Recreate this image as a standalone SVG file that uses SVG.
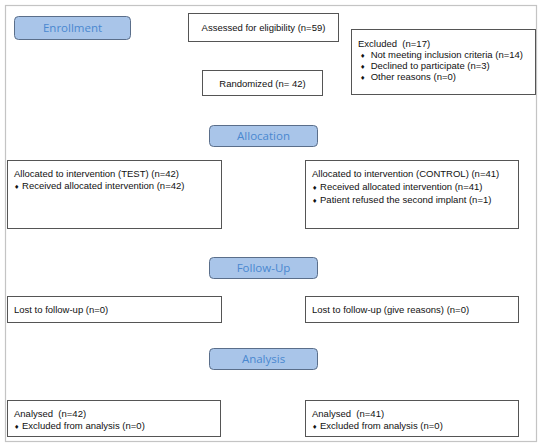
<svg xmlns="http://www.w3.org/2000/svg" width="543" height="448" viewBox="0 0 543 448">
<style>
.frame{fill:none;stroke:#c4c4c4;stroke-width:1.2}
.box{fill:#fff;stroke:#555;stroke-width:1}
.stage{fill:#a9c5e9;stroke:#5a6e8a;stroke-width:1}
.st{font-family:"Open Sans","DejaVu Sans",sans-serif;font-size:11.5px;fill:#4a88d0;text-anchor:middle}
.t{font-family:"Liberation Sans",Arial,sans-serif;font-size:9.5px;fill:#111;white-space:pre}
.b{font-family:"DejaVu Sans",sans-serif;font-size:6px}
</style>
<rect width="543" height="448" fill="#fff"/>
<rect class="frame" x="5.5" y="5.5" width="531" height="436"/>
<g id="connectors"/>
<g id="enrollment"><rect class="stage" x="14.5" y="16.5" width="116" height="23" rx="4"/><text class="st" x="72.5" y="32">Enrollment</text></g>
<g id="assessed"><rect class="box" x="188.5" y="13.5" width="150" height="28"/><text class="t" x="263.5" y="30.5" text-anchor="middle">Assessed for eligibility (n=59)</text></g>
<g id="excluded"><rect class="box" x="351.5" y="29.5" width="184" height="65"/>
<text class="t" x="358" y="46.5" xml:space="preserve">Excluded  (n=17)</text>
<text class="t" x="360" y="57.5" xml:space="preserve"><tspan class="b">♦</tspan>  Not meeting inclusion criteria (n=14)</text>
<text class="t" x="360" y="68.5" xml:space="preserve"><tspan class="b">♦</tspan>  Declined to participate (n=3)</text>
<text class="t" x="360" y="79.5" xml:space="preserve"><tspan class="b">♦</tspan>  Other reasons (n=0)</text></g>
<g id="randomized"><rect class="box" x="202.5" y="70.5" width="120" height="25"/><text class="t" x="262.5" y="86.5" text-anchor="middle">Randomized (n= 42)</text></g>
<g id="allocation"><rect class="stage" x="209.5" y="125.5" width="108" height="21" rx="4"/><text class="st" x="263.5" y="140">Allocation</text></g>
<g id="alloc-test"><rect class="box" x="7.5" y="160.5" width="214" height="68"/>
<text class="t" x="14" y="176.5">Allocated to intervention (TEST) (n=42)</text>
<text class="t" x="14" y="188.5" xml:space="preserve"><tspan class="b">♦</tspan> Received allocated intervention (n=42)</text></g>
<g id="alloc-control"><rect class="box" x="305.5" y="160.5" width="213" height="68"/>
<text class="t" x="312" y="176.5">Allocated to intervention (CONTROL) (n=41)</text>
<text class="t" x="312" y="189.5" xml:space="preserve"><tspan class="b">♦</tspan> Received allocated intervention (n=41)</text>
<text class="t" x="312" y="202.5" xml:space="preserve"><tspan class="b">♦</tspan> Patient refused the second implant (n=1)</text></g>
<g id="followup"><rect class="stage" x="209.5" y="257.5" width="108" height="21" rx="4"/><text class="st" x="263.5" y="272">Follow-Up</text></g>
<g id="lost-test"><rect class="box" x="7.5" y="296.5" width="214" height="26"/><text class="t" x="14" y="312.5">Lost to follow-up (n=0)</text></g>
<g id="lost-control"><rect class="box" x="305.5" y="296.5" width="213" height="26"/><text class="t" x="312" y="312.5">Lost to follow-up (give reasons) (n=0)</text></g>
<g id="analysis"><rect class="stage" x="209.5" y="348.5" width="108" height="21" rx="4"/><text class="st" x="263.5" y="363">Analysis</text></g>
<g id="analysed-test"><rect class="box" x="7.5" y="400.5" width="213" height="36"/>
<text class="t" x="14" y="416.5" xml:space="preserve">Analysed  (n=42)</text>
<text class="t" x="14" y="428.5" xml:space="preserve"><tspan class="b">♦</tspan> Excluded from analysis (n=0)</text></g>
<g id="analysed-control"><rect class="box" x="305.5" y="400.5" width="213" height="36"/>
<text class="t" x="312" y="416.5" xml:space="preserve">Analysed  (n=41)</text>
<text class="t" x="312" y="428.5" xml:space="preserve"><tspan class="b">♦</tspan> Excluded from analysis (n=0)</text></g>
</svg>
